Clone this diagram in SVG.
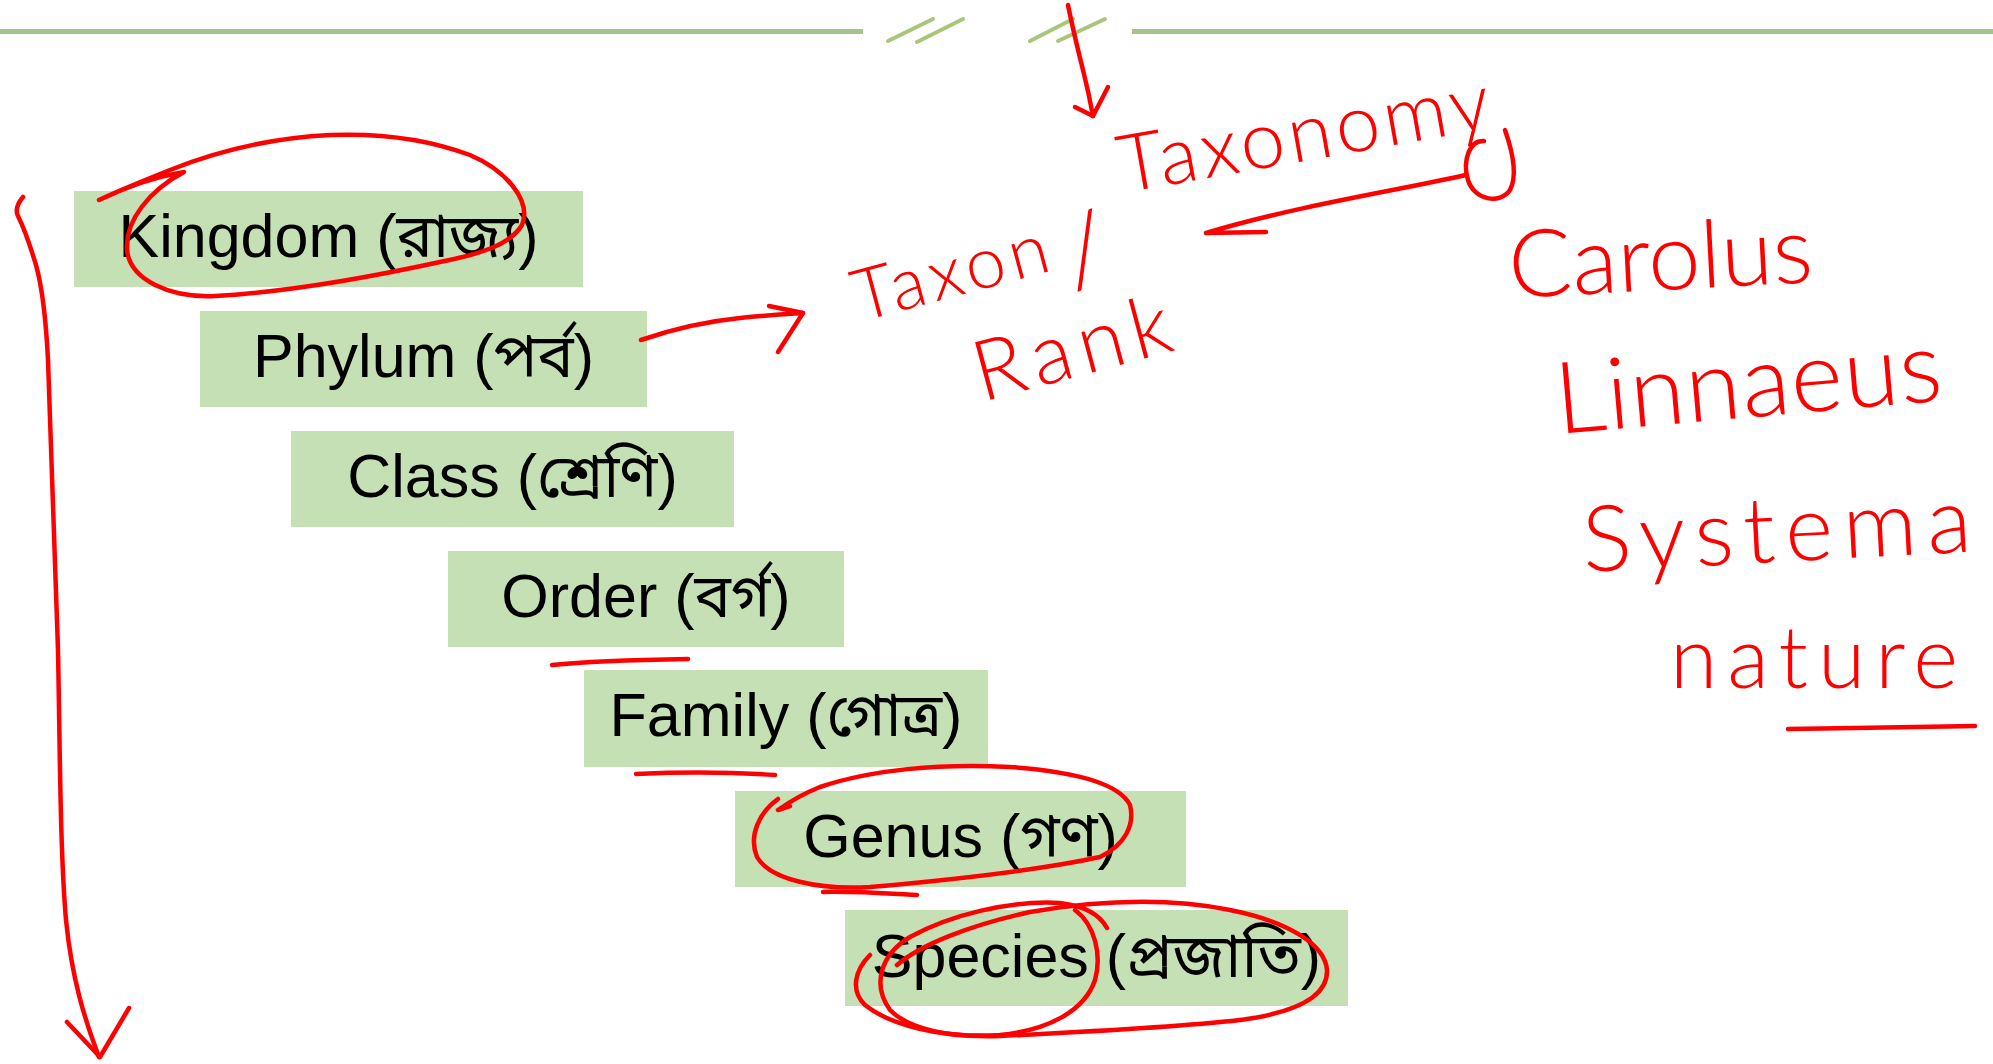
<svg xmlns="http://www.w3.org/2000/svg" width="1993" height="1064" viewBox="0 0 1993 1064">
<style>
.box{fill:#c5e0b4}
.lbl{font-family:"Liberation Sans","Noto Sans Bengali","Noto Sans",Arial,sans-serif;font-size:61px;fill:#000;text-anchor:middle}
.ink{fill:none;stroke:#ff0000;stroke-width:4.5;stroke-linecap:round;stroke-linejoin:round}
.hw{font-family:Lato,"Open Sans",sans-serif;font-weight:300;fill:#ff0000}
.rule{stroke:#a6c389;stroke-width:5;fill:none}
.tick{stroke:#aac67c;stroke-width:4;stroke-linecap:round;fill:none}
</style>
<rect width="1993" height="1064" fill="#ffffff"/>
<g id="header-rule">
<line class="rule" x1="0" y1="31.5" x2="863" y2="31.5"/>
<line class="rule" x1="1132" y1="31.5" x2="1993" y2="31.5"/>
<line class="tick" x1="888" y1="41" x2="933" y2="19"/>
<line class="tick" x1="917" y1="42" x2="963" y2="19"/>
<line class="tick" x1="1030" y1="41" x2="1073" y2="19"/>
<line class="tick" x1="1058" y1="41" x2="1105" y2="19"/>
</g>
<g id="kingdom"><rect class="box" x="74" y="191" width="509" height="96"/><text class="lbl" x="328.5" y="257">Kingdom (রাজ্য)</text></g>
<g id="phylum"><rect class="box" x="200" y="311" width="447" height="96"/><text class="lbl" x="423.5" y="377">Phylum (পর্ব)</text></g>
<g id="class"><rect class="box" x="291" y="431" width="443" height="96"/><text class="lbl" x="512.5" y="497">Class (শ্রেণি)</text></g>
<g id="order"><rect class="box" x="448" y="551" width="396" height="96"/><text class="lbl" x="646" y="617">Order (বর্গ)</text></g>
<g id="family"><rect class="box" x="584" y="670" width="404" height="97"/><text class="lbl" x="786" y="736">Family (গোত্র)</text></g>
<g id="genus"><rect class="box" x="735" y="791" width="451" height="96"/><text class="lbl" x="960.5" y="857">Genus (গণ)</text></g>
<g id="species"><rect class="box" x="845" y="910" width="503" height="96"/><text class="lbl" x="1096.5" y="977">Species (প্রজাতি)</text></g>
<g id="notes">
<text class="hw" font-size="72" letter-spacing="5" transform="translate(860 322) rotate(-15)">Taxon<tspan font-size="100" dx="9" dy="23">/</tspan></text>
<text class="hw" font-size="84" letter-spacing="8" transform="translate(982 402) rotate(-15)">Rank</text>
<text class="hw" font-size="80" letter-spacing="4" transform="translate(1123 193) rotate(-10)">Taxonomy</text>
<text class="hw" font-size="94" letter-spacing="0" transform="translate(1510 298) rotate(-3)">Carolus</text>
<text class="hw" font-size="100" letter-spacing="1" transform="translate(1558 434) rotate(-5)">Linnaeus</text>
<text class="hw" font-size="92" letter-spacing="10" transform="translate(1584 572) rotate(-3)">Systema</text>
<text class="hw" font-size="86" letter-spacing="10" transform="translate(1670 688)">nature</text>
</g>
<g id="connectors">
<path class="ink" stroke-width="5" d="M23 197 C18 203 15 210 18 216 C24 228 30 245 36 265 C43 290 46 320 48 360 C52 450 55 550 58 650 C60 750 60 850 66 920 C72 980 85 1020 99 1057"/>
<path class="ink" stroke-width="5" d="M67 1022 L100 1057 L129 1008"/>
<path class="ink" d="M99 200 C130 185 160 176 184 172 C150 190 125 220 127 250 C130 280 170 298 215 296 C290 292 380 275 440 262 C480 254 510 245 522 225 C532 200 505 170 470 155 C430 140 380 133 330 135 C270 138 215 152 170 170 C140 182 115 192 99 200"/>
<path class="ink" d="M641 340 C670 330 700 322 740 318 C770 315 790 314 803 313"/>
<path class="ink" d="M769 306 L803 313 L778 352"/>
<path class="ink" d="M1068 5 C1072 25 1078 50 1083 70 C1088 90 1091 105 1093 116"/>
<path class="ink" d="M1075 107 L1093 116 L1108 87"/>
<path class="ink" d="M1484 141 C1470 140 1462 160 1468 180 C1474 200 1500 205 1510 190 C1518 175 1512 150 1505 130"/>
<path class="ink" d="M1466 175 C1400 190 1300 205 1206 233 L1266 232"/>
<path class="ink" d="M1788 729 C1850 728 1920 727 1975 726"/>
<path class="ink" stroke-width="6" d="M552 665 C580 662 620 660 688 659"/>
<path class="ink" d="M636 774 C680 772 730 772 775 775"/>
<path class="ink" d="M778 799 C760 812 748 835 757 857 C770 880 820 890 870 887 C950 880 1040 870 1100 857 C1125 845 1135 825 1130 805 C1120 785 1080 772 1010 767 C940 763 870 770 820 787 C800 795 785 805 778 810 L790 806"/>
<path class="ink" d="M823 892 C850 891 880 893 917 895"/>
<path class="ink" d="M1107 928 C1100 915 1085 906 1060 903 C1010 900 950 915 910 937 C880 955 872 985 890 1010 C910 1030 950 1038 1000 1035 C1050 1030 1085 1010 1095 980 C1102 955 1095 925 1075 910"/>
<path class="ink" d="M897 965 C920 945 970 925 1030 912 C1100 900 1170 898 1230 910 C1290 922 1325 945 1327 970 C1328 995 1300 1012 1240 1020 C1170 1028 1080 1032 1000 1036 C940 1038 890 1025 865 1005 C850 990 855 970 870 955"/>
</g>
</svg>
